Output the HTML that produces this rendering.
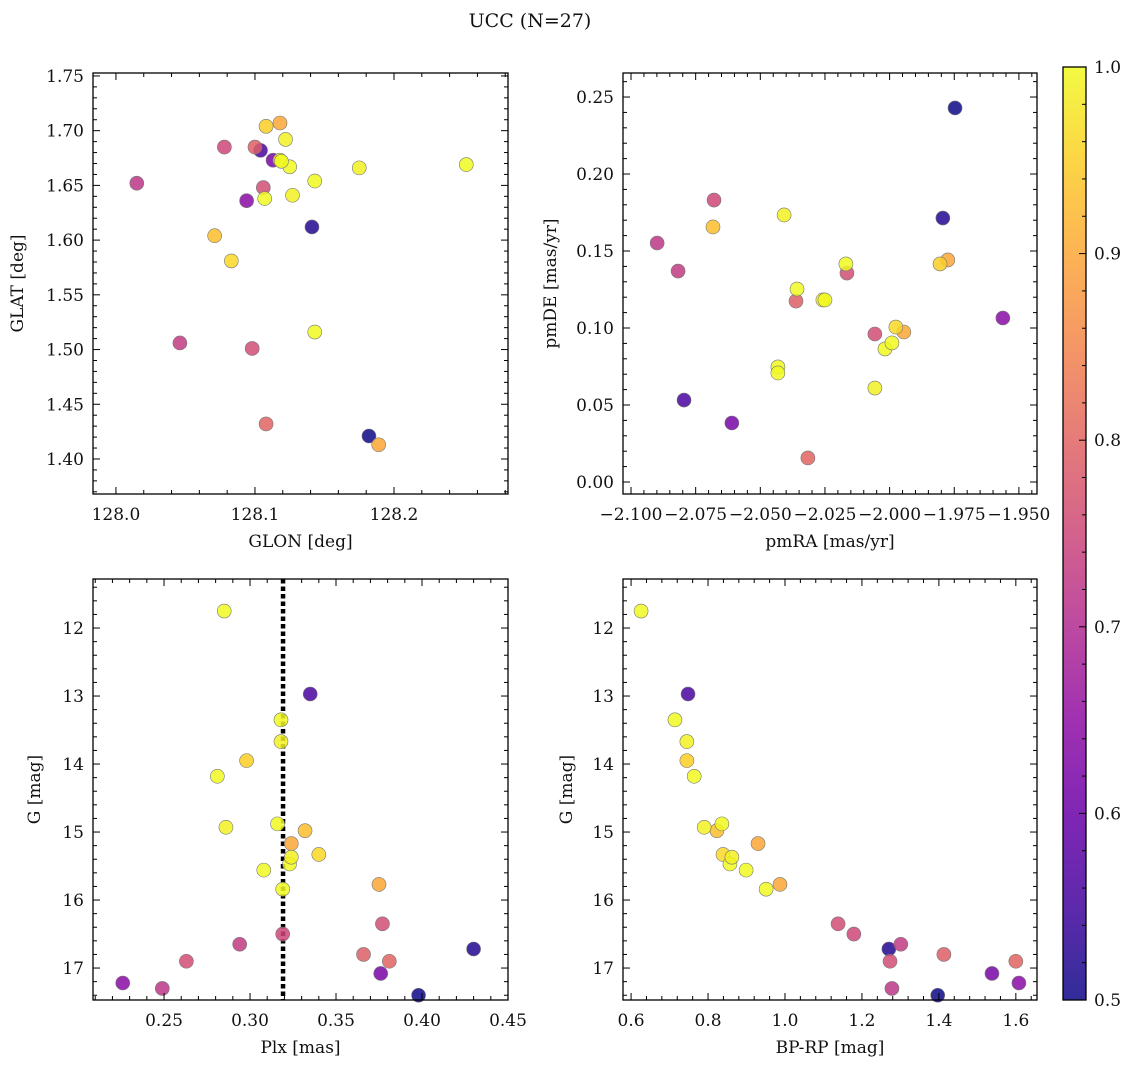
<!DOCTYPE html>
<html><head><meta charset="utf-8">
<style>
html,body{margin:0;padding:0;background:#fff;}
svg text{font-family:"DejaVu Serif","Liberation Serif",serif;fill:#111;}
</style></head>
<body>
<svg id="fig" width="1136" height="1067" xmlns="http://www.w3.org/2000/svg">
<defs>
<linearGradient id="plasma" x1="0" y1="1" x2="0" y2="0">
<stop offset="0" stop-color="#0d0887"/><stop offset="0.1" stop-color="#41049d"/><stop offset="0.2" stop-color="#6a00a8"/><stop offset="0.3" stop-color="#8f0da4"/><stop offset="0.4" stop-color="#b12a90"/><stop offset="0.5" stop-color="#cc4778"/><stop offset="0.6" stop-color="#e16462"/><stop offset="0.7" stop-color="#f2844b"/><stop offset="0.8" stop-color="#fca636"/><stop offset="0.9" stop-color="#fcce25"/><stop offset="1" stop-color="#f0f921"/>
</linearGradient>
</defs>
<text x="530" y="27" font-size="19" text-anchor="middle">UCC (N=27)</text>
</svg>
<script>
// Star data (27 members)
const glon = [128.182,128.141,128.104,128.113,128.094,128.015,128.046,128.078,128.098,128.106,128.100,128.108,128.118,128.189,128.071,128.108,128.083,128.107,128.118,128.122,128.125,128.127,128.143,128.143,128.175,128.252,128.119];
const glat = [1.421,1.612,1.682,1.673,1.636,1.652,1.506,1.685,1.501,1.648,1.685,1.432,1.707,1.413,1.604,1.704,1.581,1.638,1.673,1.692,1.667,1.641,1.654,1.516,1.666,1.669,1.672];
const pmra = [-1.9747,-1.9794,-2.0795,-2.0610,-1.9562,-2.0899,-2.0818,-2.0679,-2.0165,-2.0057,-2.0362,-2.0316,-1.9945,-1.9775,-2.0683,-1.9805,-1.9976,-2.0432,-2.0432,-2.0408,-2.0358,-2.0258,-2.0250,-2.0169,-2.0057,-2.0018,-1.9991];
const pmde = [0.2429,0.1714,0.0532,0.0383,0.1065,0.1552,0.1370,0.1831,0.1357,0.0961,0.1175,0.0156,0.0974,0.1442,0.1656,0.1416,0.1006,0.0747,0.0708,0.1734,0.1253,0.1182,0.1182,0.1416,0.0610,0.0864,0.0903];
const plx = [0.398,0.430,0.335,0.376,0.226,0.249,0.294,0.319,0.377,0.263,0.366,0.381,0.324,0.375,0.332,0.298,0.340,0.285,0.318,0.318,0.281,0.286,0.316,0.323,0.324,0.308,0.319];
const gmag = [17.40,16.72,12.97,17.08,17.22,17.30,16.65,16.50,16.35,16.90,16.80,16.90,15.17,15.77,14.98,13.95,15.33,11.75,13.35,13.67,14.18,14.93,14.88,15.47,15.37,15.56,15.84];
const bprp = [1.397,1.270,0.748,1.538,1.608,1.278,1.301,1.179,1.138,1.273,1.413,1.600,0.930,0.987,0.823,0.745,0.839,0.626,0.714,0.745,0.764,0.790,0.836,0.857,0.862,0.899,0.951];
const prob = [0.50,0.52,0.56,0.62,0.64,0.72,0.73,0.75,0.76,0.76,0.79,0.80,0.90,0.90,0.93,0.95,0.96,1.0,1.0,0.99,1.0,0.99,1.0,1.0,0.99,1.0,1.0];
const plxMean = [0.3192];
const cbarTicks = [0.5,0.6,0.7,0.8,0.9,1.0];

const NS='http://www.w3.org/2000/svg';
const svg=document.getElementById('fig');
const stops=[[0,13,8,135],[0.1,65,4,157],[0.2,106,0,168],[0.3,143,13,164],[0.4,177,42,144],[0.5,204,71,120],[0.6,225,100,98],[0.7,242,132,75],[0.8,252,166,54],[0.9,252,206,37],[1,240,249,33]];
function cmap(v){let t=(v-0.5)/0.5;t=Math.max(0,Math.min(1,t));for(let i=1;i<stops.length;i++){if(t<=stops[i][0]){const a=stops[i-1],b=stops[i];const f=(t-a[0])/(b[0]-a[0]);return 'rgb('+[1,2,3].map(k=>Math.round(a[k]+(b[k]-a[k])*f)).join(',')+')';}}return 'rgb(240,249,33)';}
function mk(tag,attrs,parent){const e=document.createElementNS(NS,tag);for(const k in attrs)e.setAttribute(k,attrs[k]);(parent||svg).appendChild(e);return e;}
function fmt(v,d){let s=v.toFixed(d);if(v<0)s='\u2212'+(-v).toFixed(d);return s;}

function panel(p){
  const g=mk('g',{});
  
  
  const sx=v=>p.x0+(v-p.xmin)/(p.xmax-p.xmin)*(p.x1-p.x0);
  const sy=p.invert? (v=>p.y0+(v-p.ymin)/(p.ymax-p.ymin)*(p.y1-p.y0)) : (v=>p.y1-(v-p.ymin)/(p.ymax-p.ymin)*(p.y1-p.y0));
  if(p.vline!==undefined){const l=mk('line',{x1:sx(p.vline),x2:sx(p.vline),y1:p.y0,y2:p.y1,stroke:'#000','stroke-width':4.5,'stroke-dasharray':'4.5 3'},g);
    
    }
  for(let i=0;i<p.xs.length;i++){
    const c=mk('circle',{cx:sx(p.xs[i]),cy:sy(p.ys[i]),r:7,fill:cmap(prob[i]),'fill-opacity':0.85,stroke:'#777','stroke-width':0.6},g);
    
    
  }
  const fr=mk('rect',{x:p.x0,y:p.y0,width:p.x1-p.x0,height:p.y1-p.y0,fill:'none',stroke:'#000','stroke-width':1.3},g);
  
  
  const startx=Math.ceil(p.xmin/p.xminor-1e-6);
  for(let k=startx;k*p.xminor<=p.xmax+1e-9;k++){
    const v=k*p.xminor,X=sx(v);
    const major=Math.abs(v/p.xmajor-Math.round(v/p.xmajor))<1e-6;
    const L=major?7:4;
    mk('line',{x1:X,x2:X,y1:p.y1,y2:p.y1-L,stroke:'#000','stroke-width':1},g);
    mk('line',{x1:X,x2:X,y1:p.y0,y2:p.y0+L,stroke:'#000','stroke-width':1},g);
    if(major){const t=mk('text',{x:X,y:p.y1+26,'font-size':17,'text-anchor':'middle'},g);t.textContent=fmt(v,p.xdec);
      
      }
  }
  const starty=Math.ceil(p.ymin/p.yminor-1e-6);
  for(let k=starty;k*p.yminor<=p.ymax+1e-9;k++){
    const v=k*p.yminor,Y=sy(v);
    const major=Math.abs(v/p.ymajor-Math.round(v/p.ymajor))<1e-6;
    const L=major?7:4;
    mk('line',{x1:p.x0,x2:p.x0+L,y1:Y,y2:Y,stroke:'#000','stroke-width':1},g);
    mk('line',{x1:p.x1,x2:p.x1-L,y1:Y,y2:Y,stroke:'#000','stroke-width':1},g);
    if(major){const t=mk('text',{x:p.x0-9,y:Y+6,'font-size':17,'text-anchor':'end'},g);t.textContent=fmt(v,p.ydec);
      
      }
  }
  const xl=mk('text',{x:(p.x0+p.x1)/2,y:p.y1+53,'font-size':17,'text-anchor':'middle'},g);xl.textContent=p.xlabel;
  
  
  const yx=p.ylx, yc=(p.y0+p.y1)/2;
  const yl=mk('text',{x:yx,y:yc,'font-size':17,'text-anchor':'middle',transform:'rotate(-90 '+yx+' '+yc+')'},g);yl.textContent=p.ylabel;
  
  
}

panel({name:'glon-glat-panel',xs:glon,ys:glat,x0:93,x1:508,y0:73,y1:494,xmin:127.9835,xmax:128.282,ymin:1.368,ymax:1.7527,xmajor:0.1,xminor:0.02,ymajor:0.05,yminor:0.01,xdec:1,ydec:2,xlabel:'GLON [deg]',ylabel:'GLAT [deg]',ylx:23});
panel({name:'pm-panel',xs:pmra,ys:pmde,x0:623,x1:1037,y0:73,y1:494,xmin:-2.1031,xmax:-1.943,ymin:-0.0078,ymax:0.2656,xmajor:0.025,xminor:0.005,ymajor:0.05,yminor:0.01,xdec:3,ydec:2,xlabel:'pmRA [mas/yr]',ylabel:'pmDE [mas/yr]',ylx:556});
panel({name:'plx-g-panel',xs:plx,ys:gmag,x0:93,x1:508,y0:579,y1:1000,xmin:0.2087,xmax:0.45,ymin:11.279,ymax:17.47,invert:true,xmajor:0.05,xminor:0.01,ymajor:1,yminor:0.2,xdec:2,ydec:0,xlabel:'Plx [mas]',ylabel:'G [mag]',ylx:40,vline:plxMean[0]});
panel({name:'cmd-panel',xs:bprp,ys:gmag,x0:623,x1:1037,y0:579,y1:1000,xmin:0.579,xmax:1.655,ymin:11.279,ymax:17.47,invert:true,xmajor:0.2,xminor:0.04,ymajor:1,yminor:0.2,xdec:1,ydec:0,xlabel:'BP-RP [mag]',ylabel:'G [mag]',ylx:572});

const cb=mk('g',{});


const cy0=67,cy1=1000,cx0=1063,cx1=1086;
mk('rect',{x:cx0,y:cy0,width:cx1-cx0,height:cy1-cy0,fill:'url(#plasma)','fill-opacity':0.85},cb);
mk('rect',{x:cx0,y:cy0,width:cx1-cx0,height:cy1-cy0,fill:'none',stroke:'#000','stroke-width':1.3},cb);
const cyv=v=>cy1-(v-0.5)/0.5*(cy1-cy0);
for(let k=25;k<=50;k++){const v=k*0.02,Y=cyv(v);const major=k%5===0;
  mk('line',{x1:cx1,x2:cx1-(major?7:4),y1:Y,y2:Y,stroke:'#000','stroke-width':1},cb);}
cbarTicks.forEach(v=>{const t=mk('text',{x:cx1+8,y:cyv(v)+6,'font-size':17},cb);t.textContent=v.toFixed(1);
  
  });
</script>
</body></html>
